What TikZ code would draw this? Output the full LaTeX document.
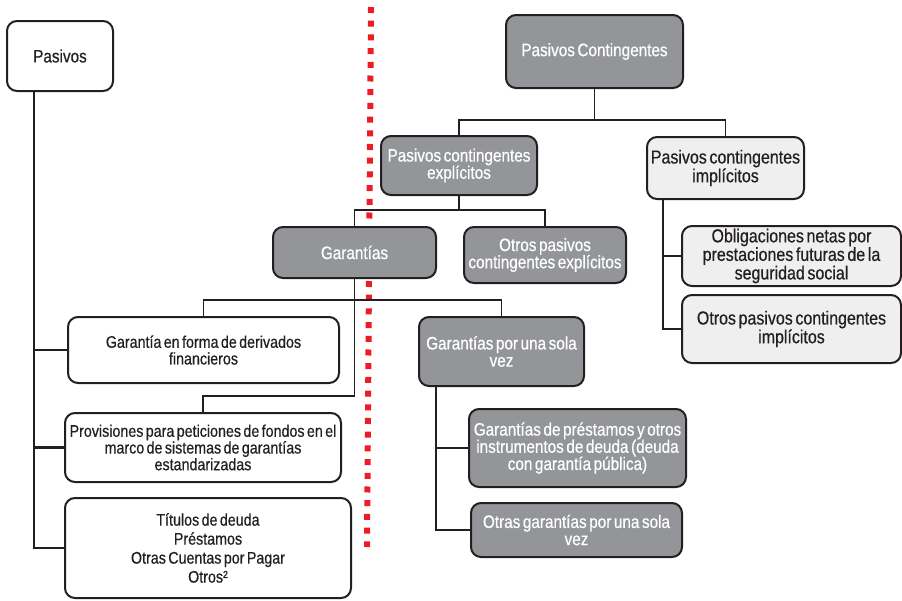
\documentclass[tikz,border=0pt]{standalone}
\usepackage{fontspec}
\setmainfont{Liberation Sans}[FakeStretch=0.85, WordSpace=0.6, FakeBold=0.5]
\definecolor{ink}{HTML}{231F20}
\definecolor{boxgray}{HTML}{939598}
\definecolor{boxpale}{HTML}{EFEFEF}
\definecolor{divred}{HTML}{ED1C24}
\begin{document}
\begin{tikzpicture}[x=1pt, y=-1pt,
  box/.style={draw=ink, line width=2pt, rounded corners=10pt, align=center,
    inner sep=0pt},
  title/.style={font=\fontsize{18}{18}\selectfont},
  dark/.style={box, fill=boxgray, text=white, font=\fontsize{18}{17.2}\selectfont},
  pale/.style={box, fill=boxpale, text=ink, font=\fontsize{18.8}{17.2}\selectfont},
  plain/.style={box, fill=white, text=ink, font=\fontsize{16.8}{16.7}\selectfont},
  conn/.style={draw=ink, line width=1.8pt},
  divider/.style={draw=divred, line width=6pt, dash pattern=on 6pt off 7.7pt}]

\useasboundingbox (0,0) rectangle (902,600);

% dotted red separator
\coordinate (dtop) at (371,7);
\coordinate (dbot) at (367,547);
\draw[divider] (dtop) -- (dbot);

% left column: liabilities
\node[plain, title, minimum width=106, minimum height=70] (pas) at (60,56) {Pasivos};
\node[plain, minimum width=271, minimum height=66] (gd) at (203.5,350)
  {Garantía en forma de derivados\\financieros};
\node[plain, minimum width=276, minimum height=69] (prov) at (203,447.5)
  {Provisiones para peticiones de fondos en el\\marco de sistemas de garantías\\estandarizadas};
\node[plain, minimum width=286, minimum height=100,
  font=\fontsize{16.8}{19}\selectfont] (tit) at (208,548)
  {Títulos de deuda\\Préstamos\\Otras Cuentas por Pagar\\Otros²};

% contingent liabilities tree
\node[dark, title, minimum width=177, minimum height=73] (pc) at (594.5,51.5) {Pasivos Contingentes};
\node[dark, minimum width=156, minimum height=59] (pce) at (459,165.5)
  {Pasivos contingentes\\explícitos};
\node[pale, minimum width=157, minimum height=62] (pci) at (725.5,168)
  {Pasivos contingentes\\implícitos};
\node[dark, minimum width=163, minimum height=51] (gar) at (354.5,252.5) {Garantías};
\node[dark, minimum width=162, minimum height=56] (oe) at (545,255)
  {Otros pasivos\\contingentes explícitos};
\node[pale, minimum width=219, minimum height=60] (obl) at (791.5,256)
  {Obligaciones netas por\\prestaciones futuras de la\\seguridad social};
\node[pale, minimum width=219, minimum height=68] (opi) at (791.5,329)
  {Otros pasivos contingentes\\implícitos};
\node[dark, minimum width=165, minimum height=69] (gu) at (501.5,351.5)
  {Garantías por una sola\\vez};
\node[dark, minimum width=217, minimum height=78] (gp) at (577.5,448)
  {Garantías de préstamos y otros\\instrumentos de deuda (deuda\\con garantía pública)};
\node[dark, minimum width=211, minimum height=54] (oguv) at (576.5,530)
  {Otras garantías por una sola\\vez};

% junction levels and trunk positions
\coordinate (j1) at (0,120);
\coordinate (j2) at (0,210);
\coordinate (j3) at (0,300);
\coordinate (j4) at (0,396);
\coordinate (pv) at (34,0);
\coordinate (iv) at (663,0);
\coordinate (sv) at (436,0);

% connectors
\draw[conn] (pc.south) -- (pc.south |- j1);
\draw[conn] (pce.north) |- (pci.north |- j1) -- (pci.north);
\draw[conn] (pce.south) -- (pce.south |- j2);
\draw[conn] (gar.north) |- (oe.north |- j2) -- (oe.north);
\draw[conn] (gd.north) |- (gu.north |- j3) -- (gu.north);
\draw[conn] (gar.south) |- (prov.north |- j4) -- (prov.north);

\draw[conn] (pas.south -| pv) |- (tit.west);
\draw[conn] (pv |- gd.west) -- (gd.west);
\draw[conn, line width=3pt] (pv |- prov.west) -- (prov.west);

\draw[conn] (pci.south -| iv) |- (opi.west);
\draw[conn] (iv |- obl.west) -- (obl.west);

\draw[conn] (gu.south -| sv) |- (oguv.west);
\draw[conn] (sv |- gp.west) -- (gp.west);
\end{tikzpicture}
\end{document}
